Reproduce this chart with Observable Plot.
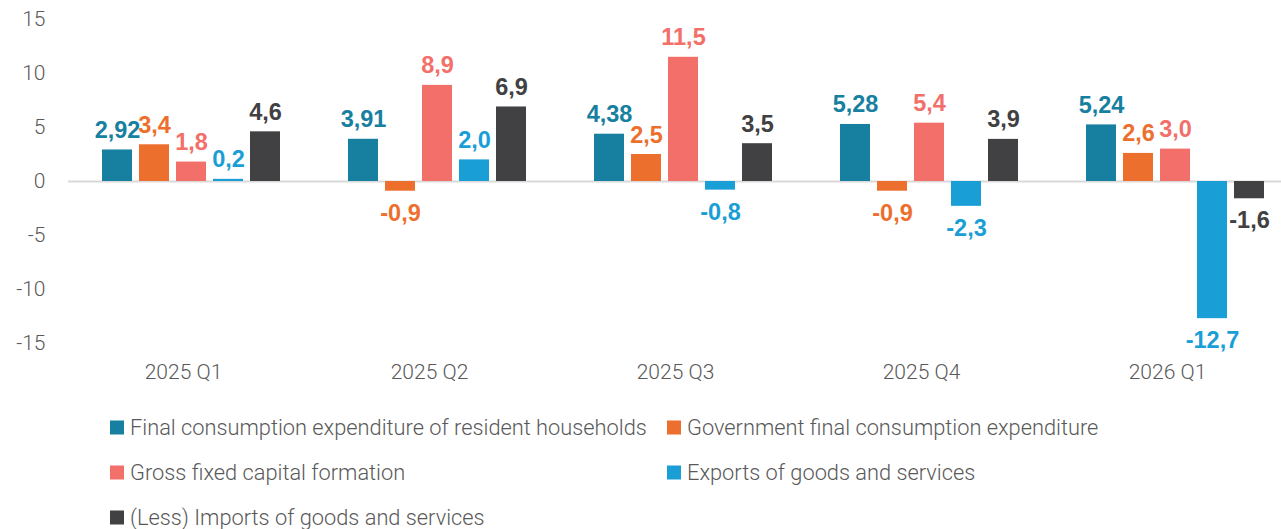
<!DOCTYPE html>
<html><head><meta charset="utf-8">
<script src="https://cdn.jsdelivr.net/npm/d3@7"></script>
<script src="https://cdn.jsdelivr.net/npm/@observablehq/plot@0.6"></script>
<style>
html,body{margin:0;padding:0;background:#fff;overflow:hidden;width:1281px;height:529px;}
#chart{position:absolute;left:0;top:0;width:1300px;}
#chart svg{max-width:none !important;}
#legend{position:absolute;left:0;top:0;font-family:Roboto,sans-serif;font-weight:300;font-size:21.8px;color:#595959;}
.item{position:absolute;display:flex;align-items:center;white-space:nowrap;transform:translateY(-50%);}
.sw{width:14px;height:14px;margin-right:6px;flex:none;}
</style></head><body>
<div id="chart"></div>
<div id="legend"></div>
<script>
const quarters = ["2025 Q1", "2025 Q2", "2025 Q3", "2025 Q4", "2026 Q1"];
const series = [
  "Final consumption expenditure of resident households",
  "Government final consumption expenditure",
  "Gross fixed capital formation",
  "Exports of goods and services",
  "(Less) Imports of goods and services"
];
const colors = ["#1780a1", "#ed6f2e", "#f26f6a", "#1a9ed6", "#414042"];
const households = [2.92, 3.91, 4.38, 5.28, 5.24];
const government = [3.4, -0.9, 2.5, -0.9, 2.6];
const gfcf = [1.8, 8.9, 11.5, 5.4, 3.0];
const exportsV = [0.2, 2.0, -0.8, -2.3, -12.7];
const importsV = [4.6, 6.9, 3.5, 3.9, -1.6];
const decimals = [2, 1, 1, 1, 1];
const yTicks = [-15, -10, -5, 0, 5, 10, 15];

const values = [households, government, gfcf, exportsV, importsV];
const data = quarters.flatMap((q, i) => series.map((s, j) => ({
  quarter: q, series: s, value: values[j][i],
  label: values[j][i].toFixed(decimals[j]).replace(".", ",")
})));

const labelStyle = {fx: "quarter", x: "series", y: "value", text: "label", fill: "series",
  fontWeight: "bold", fontSize: 23.5, fontFamily: "Liberation Sans, Arial, sans-serif"};

const plot = Plot.plot({
  width: 1300, height: 400,
  marginLeft: 66, marginRight: 0, marginTop: 19, marginBottom: 57,
  style: {fontFamily: "Roboto, sans-serif", fontWeight: 300, fontSize: "21px", color: "#595959", background: "transparent", overflow: "visible", maxWidth: "none"},
  fx: {domain: quarters, padding: 0, label: null},
  x: {domain: series, paddingInner: 0.2, paddingOuter: 0.86, axis: null},
  y: {domain: [-15, 15], label: null},
  color: {domain: series, range: colors},
  marks: [
    Plot.ruleY([0], {stroke: "#d9d9d9", strokeWidth: 2}),
    Plot.barY(data, {fx: "quarter", x: "series", y: "value", fill: "series"}),
    Plot.text(data.filter(d => d.value >= 0), {...labelStyle, lineAnchor: "bottom", dy: -12}),
    Plot.text(data.filter(d => d.value < 0), {...labelStyle, lineAnchor: "top", dy: 13}),
    Plot.axisY({ticks: yTicks, tickFormat: d => String(d), tickSize: 0, tickPadding: 23, label: null, fill: "#595959"}),
    Plot.axisFx({anchor: "bottom", tickSize: 0, tickPadding: 21, dx: -8, label: null, fill: "#595959"})
  ]
});
document.getElementById("chart").appendChild(plot);

const legendPos = [[110, 427], [667, 427], [110, 472], [667, 472], [110, 517]];
const legend = document.getElementById("legend");
series.forEach((s, i) => {
  const item = document.createElement("div");
  item.className = "item";
  item.style.left = legendPos[i][0] + "px";
  item.style.top = legendPos[i][1] + "px";
  const sw = document.createElement("span");
  sw.className = "sw";
  sw.style.background = colors[i];
  const t = document.createElement("span");
  t.textContent = s;
  item.appendChild(sw);
  item.appendChild(t);
  legend.appendChild(item);
});
</script>
</body></html>
